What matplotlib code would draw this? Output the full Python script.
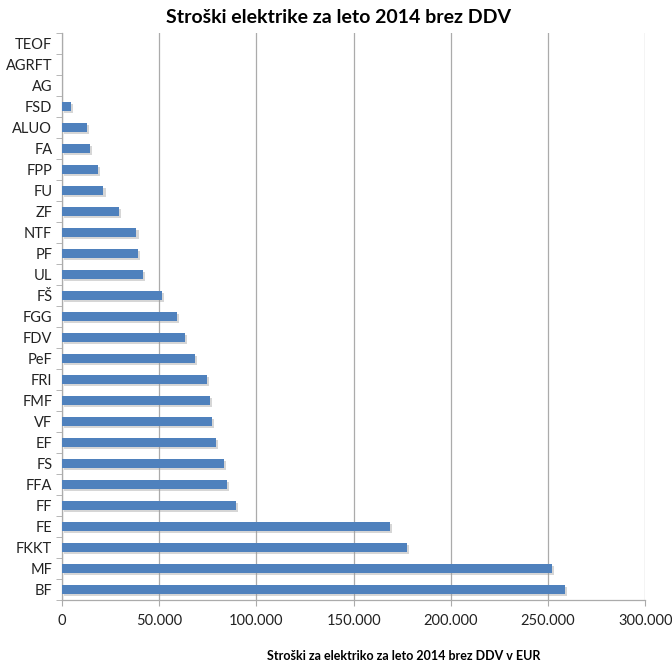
import matplotlib.pyplot as plt
import matplotlib.patheffects as pe
from matplotlib.ticker import FuncFormatter, FixedLocator

plt.rcParams["font.family"] = ["Lato", "DejaVu Sans"]

# Faculties, top to bottom as in the chart
faculties = [
    "TEOF", "AGRFT", "AG", "FSD", "ALUO", "FA", "FPP", "FU", "ZF", "NTF",
    "PF", "UL", "FŠ", "FGG", "FDV", "PeF", "FRI", "FMF", "VF", "EF",
    "FS", "FFA", "FF", "FE", "FKKT", "MF", "BF",
]
# Electricity costs 2014 without VAT (EUR)
costs = [
    0, 0, 0, 4500, 12800, 14400, 18400, 21300, 29300, 38300,
    39100, 41700, 51400, 58900, 63000, 68500, 74700, 76300, 77300, 79200,
    83300, 84700, 89400, 168500, 177300, 251800, 258500,
]
x_ticks = [0, 50000, 100000, 150000, 200000, 250000, 300000]

BAR_COLOR = "#4F81BD"
GRID_COLOR = "#ABABAB"


def thousands(v, _pos):
    return f"{int(v):,}".replace(",", ".")


fig = plt.figure(figsize=(6.72, 6.65), dpi=100)
ax = fig.add_axes([0.0923, 0.0977, 0.868, 0.853])

y = list(range(len(faculties)))
bars = ax.barh(y, costs, height=0.42, color=BAR_COLOR, linewidth=0, zorder=3)
for b in bars:
    b.set_path_effects([
        pe.SimplePatchShadow(offset=(1.5, -1.5), shadow_rgbFace="#9a9a9a", alpha=0.4),
        pe.Normal(),
    ])

ax.set_ylim(len(faculties) - 0.5, -0.5)
ax.set_xlim(0, 300000)
ax.set_xticks(x_ticks)
ax.xaxis.set_major_formatter(FuncFormatter(thousands))
ax.set_yticks(y)
ax.set_yticklabels(faculties)
ax.yaxis.set_minor_locator(FixedLocator([i - 0.5 for i in range(len(faculties) + 1)]))

ax.grid(axis="x", color=GRID_COLOR, linewidth=0.9, zorder=0)
ax.set_axisbelow(True)
for side in ("top", "right"):
    ax.spines[side].set_visible(False)
for side in ("left", "bottom"):
    ax.spines[side].set_color(GRID_COLOR)
    ax.spines[side].set_linewidth(0.9)

ax.tick_params(axis="y", which="major", length=0, pad=7, labelsize=10.5, labelcolor="#222222")
ax.tick_params(axis="y", which="minor", length=4, color=GRID_COLOR, direction="out")
ax.tick_params(axis="x", which="major", length=4, color=GRID_COLOR, pad=6,
               labelsize=10.5, labelcolor="#222222")

fig.text(0.503, 0.973, "Stroški elektrike za leto 2014 brez DDV",
         ha="center", va="center", fontsize=14, fontweight="bold")
fig.text(0.600, 0.014, "Stroški za elektriko za leto 2014 brez DDV v EUR",
         ha="center", va="center", fontsize=9, fontweight="bold")

fig.savefig("out.png", dpi=100)
